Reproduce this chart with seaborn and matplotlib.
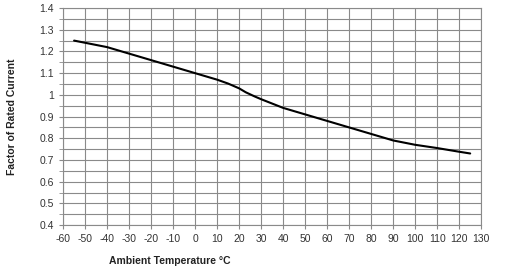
import matplotlib
matplotlib.use("Agg")
import matplotlib.pyplot as plt
import seaborn as sns
import pandas as pd
import numpy as np

temperature = [-55, -40, -30, -20, -10, 0, 10, 15, 20, 23, 27, 30, 40, 50, 60, 70, 80, 90, 100, 110, 120, 125]
factor = [1.25, 1.22, 1.19, 1.16, 1.13, 1.10, 1.07, 1.052, 1.03, 1.012, 0.993, 0.98, 0.94, 0.91, 0.88, 0.85, 0.82, 0.79, 0.77, 0.755, 0.738, 0.73]
x_ticks = list(range(-60, 131, 10))
y_ticks = [0.4, 0.5, 0.6, 0.7, 0.8, 0.9, 1.0, 1.1, 1.2, 1.3, 1.4]
y_tick_labels = ["0.4", "0.5", "0.6", "0.7", "0.8", "0.9", "1", "1.1", "1.2", "1.3", "1.4"]

sns.set_style("white")
plt.rcParams['font.family'] = ['Liberation Sans', 'DejaVu Sans']
plt.rcParams['axes.unicode_minus'] = False

fig = plt.figure(figsize=(5.13, 2.68), dpi=100)
ax = fig.add_axes([0.123, 0.160, 0.815, 0.810])

df = pd.DataFrame({"t": temperature, "f": factor})
sns.lineplot(data=df, x="t", y="f", ax=ax, color="black", linewidth=1.5)

ax.set_xlim(-60, 130)
ax.set_ylim(0.4, 1.4)
ax.set_xticks(x_ticks)
ax.set_yticks(y_ticks)
ax.set_yticklabels(y_tick_labels)
ax.set_yticks(np.arange(0.45, 1.4, 0.1), minor=True)
ax.grid(True, which="major", color="#8a8a8a", linewidth=0.8)
ax.grid(True, which="minor", axis="y", color="#8a8a8a", linewidth=0.8)
ax.tick_params(axis="both", which="major", labelsize=7.5, labelcolor="#333333",
               length=3, color="#8a8a8a", direction="out")
ax.tick_params(axis="x", bottom=True)
ax.tick_params(axis="y", left=True)
ax.tick_params(axis="y", which="minor", left=True, length=3, color="#8a8a8a")
for s in ax.spines.values():
    s.set_color("#8a8a8a")
    s.set_linewidth(0.8)

ax.set_xlabel("Ambient Temperature °C", fontsize=7.5, fontweight="bold", color="#222222")
ax.set_ylabel("Factor of Rated Current", fontsize=7.5, fontweight="bold", color="#222222", labelpad=16)
ax.xaxis.set_label_coords(0.255, -0.14)

fig.savefig("out.png", dpi=100)
